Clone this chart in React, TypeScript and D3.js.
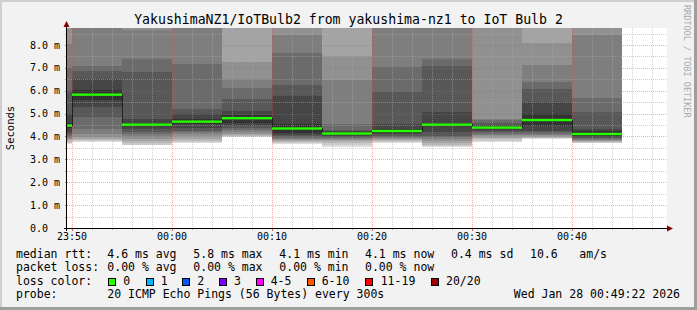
import React, { useEffect } from 'react';
import * as d3 from 'd3';

const W = 697;
const H = 310;

// ---- data ----
const stepStarts = ["23:45", "23:50", "23:55", "00:00", "00:05", "00:10", "00:15", "00:20", "00:25", "00:30", "00:35", "00:40"];
const medians = [4.48, 5.83, 4.52, 4.65, 4.80, 4.35, 4.13, 4.24, 4.52, 4.39, 4.72, 4.11];
// 20 sorted ping RTTs (ms) per 5-minute step
const pings: number[][] = [
  [3.68, 3.72, 3.78, 3.85, 3.9, 3.95, 4.0, 4.1, 4.2, 4.36, 4.6, 5.0, 6.0, 7.0, 8.05, 9.2, 9.8, 10.5, 11.5, 13],
  [3.76, 3.8, 3.85, 3.9, 3.97, 4.12, 4.34, 4.85, 5.28, 5.6, 6.05, 6.5, 6.88, 7.06, 9.1, 9.6, 10.2, 11, 12, 14],
  [3.61, 3.65, 3.7, 3.8, 3.9, 4.0, 4.12, 4.2, 4.34, 4.44, 4.6, 4.75, 6.81, 7.39, 8.66, 9.3, 9.9, 10.5, 11.5, 13],
  [3.71, 3.76, 3.82, 3.9, 4.0, 4.12, 4.18, 4.26, 4.35, 4.55, 4.75, 4.99, 5.21, 7.17, 9.0, 9.5, 10, 11, 12, 13],
  [3.97, 4.0, 4.02, 4.06, 4.12, 4.2, 4.29, 4.38, 4.48, 4.6, 4.95, 5.11, 5.65, 6.13, 6.52, 7.25, 9.0, 9.8, 10.5, 12],
  [3.68, 3.72, 3.75, 3.8, 3.85, 3.9, 3.95, 4.0, 4.05, 4.15, 4.55, 5.75, 6.23, 7.64, 8.44, 9.0, 9.6, 10.3, 11, 12.5],
  [3.56, 3.64, 3.72, 3.8, 3.85, 3.9, 3.94, 3.98, 4.02, 4.08, 4.18, 4.22, 4.29, 4.55, 6.45, 7.54, 9.0, 9.7, 10.5, 12],
  [3.71, 3.76, 3.8, 3.85, 3.9, 3.95, 3.99, 4.04, 4.1, 4.17, 4.31, 4.55, 5.94, 7.03, 9.0, 9.5, 10, 11, 12, 13],
  [3.54, 3.6, 3.65, 3.72, 3.8, 3.9, 3.97, 4.03, 4.19, 4.44, 4.6, 5.06, 7.1, 7.39, 9.0, 9.5, 10, 11, 12, 13],
  [3.76, 3.82, 3.88, 3.95, 4.0, 4.05, 4.12, 4.18, 4.25, 4.33, 4.45, 4.52, 4.6, 4.7, 4.77, 9.0, 9.5, 10, 11, 12],
  [3.9, 3.92, 3.94, 3.97, 4.0, 4.06, 4.12, 4.18, 4.26, 4.44, 5.0, 5.5, 6.08, 6.38, 7.14, 8.09, 9.0, 9.8, 10.5, 12],
  [3.71, 3.73, 3.76, 3.79, 3.82, 3.86, 3.9, 3.94, 3.98, 4.04, 4.22, 4.34, 5.06, 5.69, 8.44, 9.0, 9.6, 10.3, 11, 12],
];
const yTickValues = [0, 1, 2, 3, 4, 5, 6, 7, 8];
const yTickLabels = ["0.0", "1.0 m", "2.0 m", "3.0 m", "4.0 m", "5.0 m", "6.0 m", "7.0 m", "8.0 m"];
const xTickLabels = ["23:50", "00:00", "00:10", "00:20", "00:30", "00:40"];
const lossLabels = ["0", "1", "2", "3", "4-5", "6-10", "11-19", "20/20"];
const lossColors = ["#26ff00", "#00b8ff", "#0059ff", "#7e00ff", "#ff00ff", "#ff5500", "#ff0000", "#a10000"];
const titleText = "YakushimaNZ1/IoTBulb2 from yakushima-nz1 to IoT Bulb 2";
const rttItems = ["median rtt:", "4.6 ms avg", "5.8 ms max", "4.1 ms min", "4.1 ms now", "0.4 ms sd", "10.6", "am/s"];
const lossItems = ["packet loss:", "0.00 % avg", "0.00 % max", "0.00 % min", "0.00 % now"];
const probeItems = ["probe:", "20 ICMP Echo Pings (56 Bytes) every 300s"];
const dateText = "Wed Jan 28 00:49:22 2026";

// ---- layout ----
const PL = 67, PR = 667, PT = 28, PB = 228;
const FONT = "'DejaVu Sans Mono', monospace";

function toDate(hhmm: string, sec = 0): Date {
  const [h, m] = hhmm.split(":").map(Number);
  return new Date(2026, 0, h >= 12 ? 27 : 28, h, m, sec);
}

export default function App() {
  useEffect(() => {
    document.body.style.margin = "0";
  }, []);

  const x = d3.scaleTime()
    .domain([toDate("23:49", 30), toDate("00:49", 30)])
    .range([PL, PR]);
  const y = d3.scaleLinear().domain([0, 8.743]).range([PB, PT]);

  const stepMs = 5 * 60 * 1000;
  const cols = stepStarts.map((s, i) => {
    const t0 = toDate(s);
    const t1 = new Date(t0.getTime() + stepMs);
    return { x0: x(t0), x1: x(t1), p: pings[i], med: medians[i] };
  });

  const gridTimes = d3.timeMinute.every(2)!.range(x.domain()[0], x.domain()[1]);
  const hGrid = d3.range(0.5, 8.743, 0.5);

  const medianLine = d3.line<[number, number]>().x(d => d[0]).y(d => d[1]);
  const medPts: [number, number][] = [];
  cols.forEach(c => {
    medPts.push([Math.max(c.x0, PL), y(c.med)]);
    medPts.push([c.x1, y(c.med)]);
  });

  const half = 10;
  const lx = [16, 107.3, 193.3, 279.3, 365, 451, 530, 579.3];
  const boxX = [108.3, 145.7, 182.3, 219, 256, 306.7, 365, 430.7];
  const lbl = [123.3, 160.7, 197.3, 234, 270.7, 321.7, 380.7, 446];

  return (
    <svg width={W} height={H} style={{ position: "absolute", left: 0, top: 0, display: "block" }} fontFamily={FONT}>
      <defs>
        <clipPath id="plotClip">
          <rect x={PL} y={PT} width={PR - PL} height={PB - PT} />
        </clipPath>
      </defs>
      {/* background and frame */}
      <rect x={0} y={0} width={W} height={H} fill="#f2f2f2" />
      <rect x={0} y={0} width={W} height={2} fill="#cfcfcf" />
      <rect x={0} y={0} width={2} height={H} fill="#cfcfcf" />
      <rect x={0} y={H - 3} width={W} height={3} fill="#9e9e9e" />
      <rect x={W - 3} y={0} width={3} height={H} fill="#9e9e9e" />
      <rect x={PL} y={PT} width={PR - PL} height={PB - PT} fill="#ffffff" />

      {/* smoke */}
      <g clipPath="url(#plotClip)" shapeRendering="crispEdges">
        {cols.map((c, i) => (
          <g key={i}>
            {d3.range(1, half + 1).map(ib => {
              const lo = c.p[ib - 1];
              const hi = c.p[20 - ib];
              const g = Math.floor((190 / half) * (half - ib)) + 50;
              const col = d3.rgb(g, g, g).formatHex();
              return (
                <rect key={ib} x={c.x0} width={c.x1 - c.x0} y={y(hi)} height={Math.max(0, y(lo) - y(hi))} fill={col} />
              );
            })}
          </g>
        ))}
      </g>

      {/* grid */}
      <g shapeRendering="crispEdges">
        {hGrid.map((v, i) => {
          const major = Math.abs(v - Math.round(v)) < 1e-6;
          return (
            <g key={"h" + i}>
              <line x1={PL} x2={PR} y1={Math.round(y(v)) + 0.5} y2={Math.round(y(v)) + 0.5}
                stroke={major ? "rgba(255,60,60,0.45)" : "rgba(170,170,170,0.55)"} strokeDasharray="1,1" />
              <line x1={PL - 2} x2={PL} y1={Math.round(y(v)) + 0.5} y2={Math.round(y(v)) + 0.5}
                stroke={major ? "rgba(200,40,40,0.7)" : "rgba(120,120,120,0.6)"} />
            </g>
          );
        })}
        {gridTimes.map((t, i) => {
          const major = t.getMinutes() % 10 === 0;
          const xx = Math.round(x(t)) + 0.5;
          return (
            <g key={"v" + i}>
              <line x1={xx} x2={xx} y1={PT} y2={PB}
                stroke={major ? "rgba(255,60,60,0.45)" : "rgba(170,170,170,0.55)"} strokeDasharray="1,1" />
              <line x1={xx} x2={xx} y1={PB} y2={PB + (major ? 3 : 2)}
                stroke={major ? "rgba(200,40,40,0.7)" : "rgba(120,120,120,0.6)"} />
            </g>
          );
        })}
      </g>

      {/* median */}
      <g clipPath="url(#plotClip)">
        <path d={medianLine(medPts) || ""} fill="none" stroke="#202020" strokeWidth={1} shapeRendering="crispEdges" />
        {cols.map((c, i) => (
          <rect key={i} x={c.x0} width={c.x1 - c.x0} y={y(c.med) - 1.2} height={2.4} fill={lossColors[0]} />
        ))}
      </g>

      {/* axes */}
      <g shapeRendering="crispEdges">
        <line x1={PL - 3} x2={PR + 1} y1={PB + 0.5} y2={PB + 0.5} stroke="#000" />
        <line x1={PL - 0.5} x2={PL - 0.5} y1={PB + 3} y2={PT - 3} stroke="#000" />
      </g>
      <path d={`M${PL - 3.5},${PT - 1} L${PL - 0.5},${PT - 7} L${PL + 2.5},${PT - 1} Z`} fill="#7f0000" />
      <path d={`M${PR},${PB - 2.5} L${PR + 6},${PB + 0.5} L${PR},${PB + 3.5} Z`} fill="#7f0000" />

      {/* y labels */}
      {yTickValues.map((v, i) => (
        <text key={i} x={30} y={y(v) + 3.6} fontSize={10} fill="#000">{yTickLabels[i]}</text>
      ))}
      {/* x labels */}
      {xTickLabels.map((s, i) => (
        <text key={i} x={x(toDate(s))} y={240} fontSize={10} textAnchor="middle" fill="#000">{s}</text>
      ))}

      {/* title & axis title */}
      <text x={W / 2} y={23.5} fontSize={13.2} textAnchor="middle" fill="#000">{titleText}</text>
      <text transform="translate(14,128) rotate(-90)" fontSize={10.5} textAnchor="middle" fill="#000">Seconds</text>
      <text transform="translate(684,5) rotate(90)" fontSize={8.5} fill="#aaaaaa">RRDTOOL / TOBI OETIKER</text>

      {/* legend */}
      <g fontSize={11.5} fill="#000">
        {rttItems.map((s, i) => (
          <text key={"r" + i} x={lx[i]} y={257.5}>{s}</text>
        ))}
        {lossItems.map((s, i) => (
          <text key={"l" + i} x={lx[i]} y={271}>{s}</text>
        ))}
        <text x={16} y={284.5}>loss color:</text>
        {lossLabels.map((s, i) => (
          <g key={"c" + i}>
            <rect x={boxX[i] + 0.5} y={278.5} width={7} height={7} fill={lossColors[i]} stroke="#000" strokeWidth={1} shapeRendering="crispEdges" />
            <text x={lbl[i]} y={284.5}>{s}</text>
          </g>
        ))}
        <text x={lx[0]} y={298}>{probeItems[0]}</text>
        <text x={lx[1]} y={298}>{probeItems[1]}</text>
        <text x={680} y={298} textAnchor="end">{dateText}</text>
      </g>
    </svg>
  );
}
